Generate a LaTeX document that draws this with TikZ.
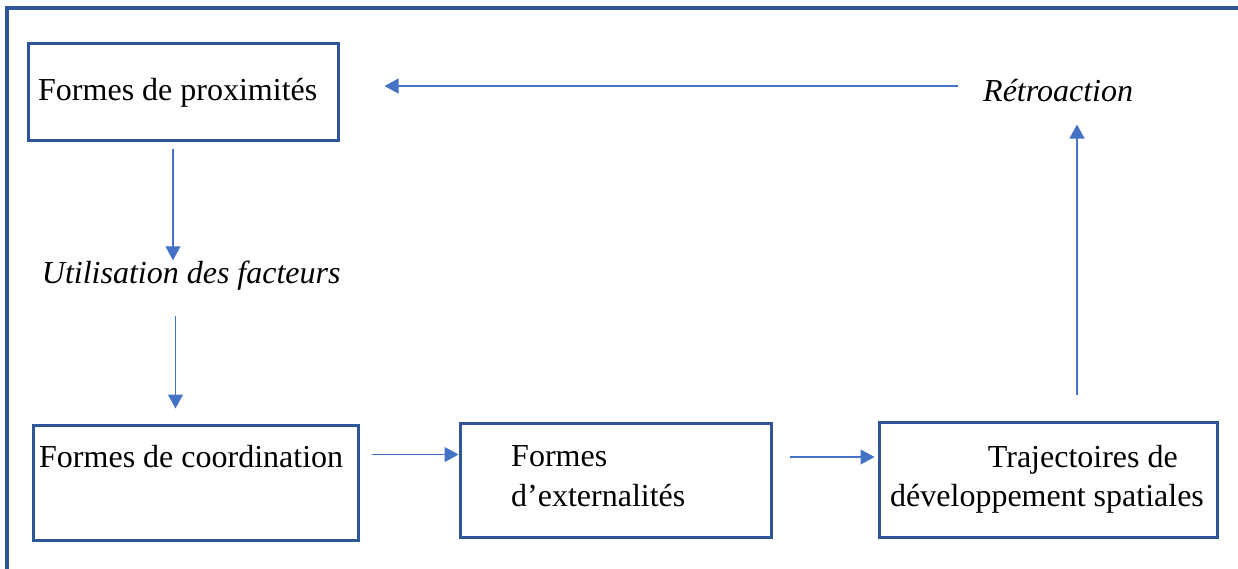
\documentclass[tikz,border=0pt]{standalone}
\usepackage{fontspec}
\setmainfont{Liberation Serif}
\usetikzlibrary{arrows.meta}
\definecolor{bordbleu}{HTML}{2F5597}
\definecolor{flechebleu}{HTML}{4472C4}

\begin{document}
\begin{tikzpicture}[x=1pt,y=-1pt,
    boite/.style={draw=bordbleu, line width=3pt, inner sep=0pt},
    texte/.style={anchor=base west, inner sep=0pt, align=left, font=\fontsize{32}{39.5}\selectfont},
    fleche/.style={draw=flechebleu, line width=1.3pt, -{Triangle[length=14pt,width=15pt]}}]
            \clip (0,0) rectangle (1238,568);
            \draw[bordbleu, line width=3.5pt] (7,8) rectangle (1270,600);

            \node[boite, minimum width=310pt, minimum height=97pt] (prox) at (183,91.5) {};
            \node[boite, minimum width=325pt, minimum height=115pt] (coord) at (195.5,482.5) {};
            \node[boite, minimum width=311pt, minimum height=114pt] (ext) at (615.5,480) {};
            \node[boite, minimum width=338pt, minimum height=115pt] (traj) at (1048,479.5) {};

            \node[texte] (proxtxt) at (38,100.7) {Formes de proximités};
            \node[texte] (coordtxt) at (39,467) {Formes de coordination};
            \node[texte] (exttxt) at (511,506.2) {Formes\\d’externalités};
            \node[texte] (trajtxt) at (890,506.5) {\hspace*{97.7pt}Trajectoires de\\développement spatiales};
            \node[texte] (util) at (41.7,283) {\itshape Utilisation des facteurs};
            \node[texte] (retro) at (983,101) {\itshape Rétroaction};

            \draw[fleche, shorten >=45pt] ([shift={(-25,-4)}]retro.west) coordinate (r) -- (r -| prox.east);
            \draw[fleche] ([xshift=-10pt,yshift=-7pt]prox.south) coordinate (p) -- (p |- util.north);
            \draw[fleche] ([xshift=-20pt]coord.north |- util.south) ++(0,26) -- ([xshift=-20pt,yshift=15pt]coord.north);
            \draw[fleche] ([xshift=12pt,yshift=28pt]coord.east) -- ([yshift=25.5pt]ext.west);
            \draw[fleche] ([xshift=17pt,yshift=23pt]ext.east) -- ([xshift=-3pt,yshift=22.5pt]traj.west);
            \draw[fleche, shorten >=23pt] ([xshift=29pt,yshift=26pt]traj.north) -- ([xshift=29pt]traj.north |- retro.south);
\end{tikzpicture}
\end{document}
